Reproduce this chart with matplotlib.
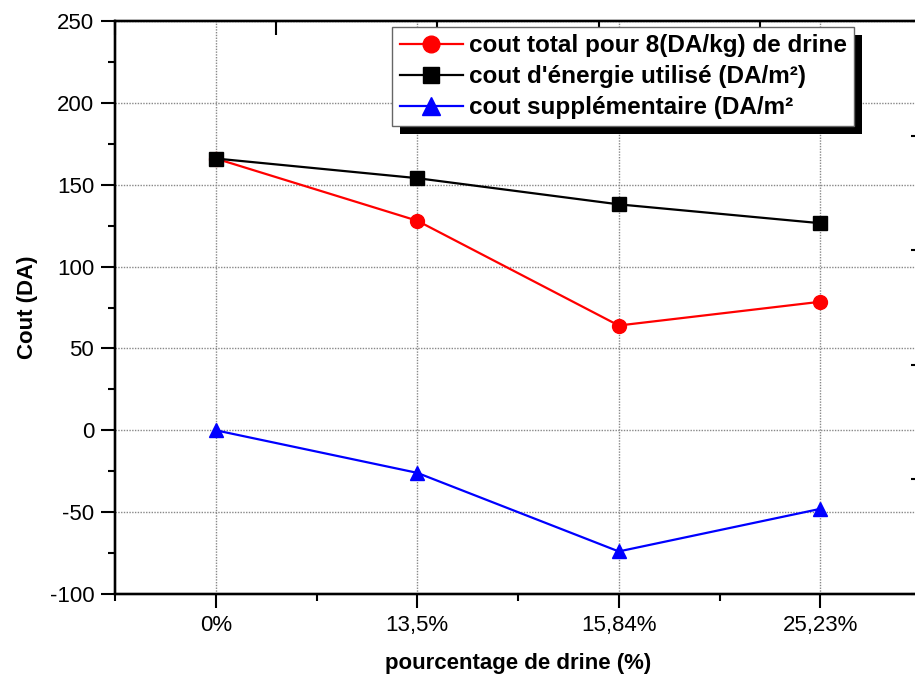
import matplotlib
matplotlib.use("Agg")
import matplotlib.pyplot as plt
from matplotlib.patches import Rectangle
from matplotlib.ticker import MultipleLocator

plt.rcParams['font.family'] = ['Liberation Sans', 'DejaVu Sans']
plt.rcParams['axes.unicode_minus'] = False

# Drine content categories
categories = ["0%", "13,5%", "15,84%", "25,23%"]

# Costs per category
cout_total = [166, 128, 64, 78.5]          # cout total pour 8 DA/kg de drine
cout_energie = [166, 154, 138, 126.5]      # cout d'énergie utilisé (DA/m²)
cout_supp = [0, -26, -74, -48]             # cout supplémentaire (DA/m²)

labels = ["cout total pour 8(DA/kg) de drine",
          "cout d'énergie utilisé (DA/m²)",
          "cout supplémentaire (DA/m²"]

fig = plt.figure(figsize=(9.15, 6.80), dpi=100)
ax = fig.add_axes([115 / 915, 1 - 594 / 680, 806 / 915, 573 / 680])

x = list(range(len(categories)))
ax.plot(x, cout_total, color='red', marker='o', markersize=10, lw=1.6,
        label=labels[0], zorder=3)
ax.plot(x, cout_energie, color='black', marker='s', markersize=9.5, lw=1.6,
        label=labels[1], zorder=3)
ax.plot(x, cout_supp, color='blue', marker='^', markersize=10.5, lw=1.6,
        label=labels[2], zorder=3)

ax.set_xlim(-0.5, 3.5)
ax.set_ylim(-100, 250)
ax.set_xticks(x)
ax.set_xticklabels(categories)
ax.xaxis.set_minor_locator(MultipleLocator(0.5))
ax.yaxis.set_major_locator(MultipleLocator(50))
ax.yaxis.set_minor_locator(MultipleLocator(25))

ax.grid(True, which='major', color='#888888', linestyle=(0, (1, 1)), lw=1.0)
ax.set_axisbelow(True)

for s in ax.spines.values():
    s.set_linewidth(1.6)

ax.tick_params(axis='both', which='major', direction='out', length=10,
               width=1.5, labelsize=16, colors='black')
ax.tick_params(axis='both', which='minor', direction='out', length=5,
               width=1.5)
ax.tick_params(axis='y', which='major', pad=5)
ax.tick_params(axis='x', which='major', pad=5)

ax.set_xlabel("pourcentage de drine (%)", fontsize=16, fontweight='bold',
              labelpad=12)
ax.set_ylabel("Cout (DA)", fontsize=16, fontweight='bold', labelpad=8)

# Unlabelled tick rows on the top and right frame edges
top = ax.twiny()
top.set_xlim(0, 5)
top.set_xticks(range(6))
top.tick_params(axis='x', direction='in', length=10, width=1.5,
                labeltop=False, top=True)
right = ax.twinx()
right.set_ylim(0, 5)
right.set_yticks(range(6))
right.tick_params(axis='y', direction='in', length=7, width=1.5,
                  labelright=False, right=True)
for a in (top, right):
    a.patch.set_visible(False)
    for s in a.spines.values():
        s.set_linewidth(1.6)

h, l = ax.get_legend_handles_labels()
leg = right.legend(h, l, loc='upper right', bbox_to_anchor=(0.917, 0.99),
                   bbox_transform=ax.transAxes, borderaxespad=0,
                   prop={'weight': 'bold', 'size': 17.5}, frameon=True,
                   fancybox=False, edgecolor='#666666', framealpha=1,
                   handlelength=2.6, handletextpad=0.25, labelspacing=0.33,
                   borderpad=0.3, markerscale=1.2)
leg.get_frame().set_linewidth(1.0)
leg.set_zorder(10)

# Solid black drop shadow behind the legend box
fig.canvas.draw()
bb = leg.get_frame().get_window_extent(fig.canvas.get_renderer())
bb_ax = bb.transformed(right.transAxes.inverted())
off_x = 8 / bb.width * bb_ax.width
off_y = 8 / bb.height * bb_ax.height
shadow = Rectangle((bb_ax.x0 + off_x, bb_ax.y0 - off_y), bb_ax.width,
                   bb_ax.height, transform=right.transAxes, facecolor='black',
                   edgecolor='none', zorder=9, clip_on=False)
right.add_patch(shadow)

fig.savefig("out.png", dpi=100)
